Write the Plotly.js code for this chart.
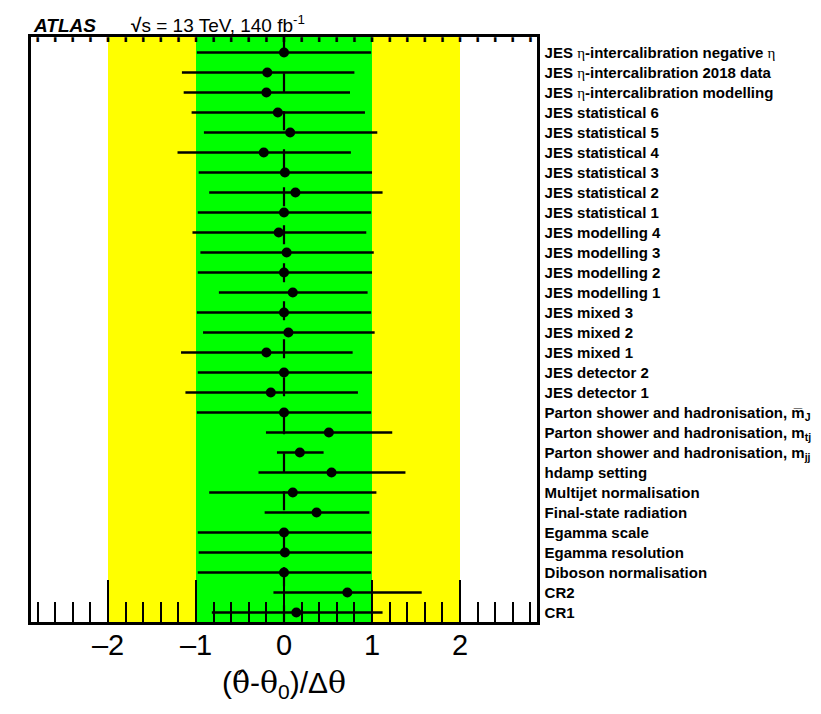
<!DOCTYPE html>
<html><head><meta charset="utf-8">
<script src="https://cdn.plot.ly/plotly-3.0.1.min.js"></script>
<style>html,body{margin:0;padding:0;background:#fff;} #chart{width:821px;height:714px;}</style>
</head><body><div id="chart"></div>
<script>
const ETA = '<span style="font-family:\'Liberation Serif\';font-weight:normal">η</span>';
const SERIF = '<span style="font-family:\'DejaVu Serif\'">';

// Nuisance-parameter names, top to bottom
const labels = [
  'JES ' + ETA + '-intercalibration negative ' + ETA,
  'JES ' + ETA + '-intercalibration 2018 data',
  'JES ' + ETA + '-intercalibration modelling',
  'JES statistical 6', 'JES statistical 5', 'JES statistical 4', 'JES statistical 3',
  'JES statistical 2', 'JES statistical 1',
  'JES modelling 4', 'JES modelling 3', 'JES modelling 2', 'JES modelling 1',
  'JES mixed 3', 'JES mixed 2', 'JES mixed 1',
  'JES detector 2', 'JES detector 1',
  'Parton shower and hadronisation, m&#773;<sub>J</sub>',
  'Parton shower and hadronisation, m<sub>tj</sub>',
  'Parton shower and hadronisation, m<sub>jj</sub>',
  'hdamp setting', 'Multijet normalisation', 'Final-state radiation',
  'Egamma scale', 'Egamma resolution', 'Diboson normalisation', 'CR2', 'CR1'
];

// Pull values (theta_hat - theta0)/dtheta, top to bottom
const pulls = [0.00, -0.19, -0.20, -0.07, 0.07, -0.23, 0.01, 0.13, 0.00,
               -0.06, 0.03, 0.00, 0.10, 0.00, 0.05, -0.20, 0.00, -0.15,
               0.00, 0.51, 0.18, 0.54, 0.10, 0.37, 0.00, 0.01, 0.00, 0.72, 0.14];
// Lower and upper post-fit uncertainties
const errLow  = [0.99, 0.97, 0.94, 0.98, 0.98, 0.98, 0.98, 0.98, 0.98,
                 0.98, 0.98, 0.98, 0.84, 0.99, 0.97, 0.97, 0.98, 0.97,
                 0.99, 0.715, 0.26, 0.83, 0.95, 0.59, 0.98, 0.98, 0.98, 0.84, 0.96];
const errHigh = [0.99, 0.99, 0.95, 0.99, 0.99, 0.99, 0.99, 0.99, 0.99,
                 0.995, 0.99, 1.00, 0.85, 0.99, 0.98, 0.98, 1.00, 0.99,
                 0.99, 0.72, 0.27, 0.84, 0.95, 0.60, 0.99, 0.99, 0.99, 0.845, 0.98];

// Axis tick labels
const xTickVals = [-2, -1, 0, 1, 2];
const xTickText = ['–2', '–1', '0', '1', '2'];

const rowPos = labels.map((_, i) => labels.length - 1 - i);
const xRange = [-2.875, 2.875];
const yRange = [-0.475, 28.775];

// small tick marks along the top frame, every 0.2
const topTickVals = [];
for (let k = -14; k <= 14; k++) topTickVals.push(k / 5);
const topTickText = topTickVals.map(() => '█');

const traces = [
  {
    type: 'scatter', mode: 'markers',
    x: pulls, y: rowPos, xaxis: 'x', yaxis: 'y',
    marker: {color: 'black', size: 10},
    error_x: {type: 'data', symmetric: false, array: errHigh, arrayminus: errLow,
              color: 'black', thickness: 2.6, width: 0},
    hoverinfo: 'skip', showlegend: false
  },
  { type: 'scatter', mode: 'markers', x: pulls, y: rowPos, xaxis: 'x2', yaxis: 'y',
    marker: {color: 'rgba(0,0,0,0)', size: 1}, hoverinfo: 'skip', showlegend: false }
];

const layout = {
  width: 821, height: 714,
  margin: {l: 31, r: 284, t: 37, b: 92, pad: 0},
  paper_bgcolor: 'white', plot_bgcolor: 'white',
  showlegend: false,
  font: {family: 'Liberation Sans, Arial, sans-serif', color: 'black'},
  xaxis: {
    range: xRange, tickmode: 'array', tickvals: xTickVals, ticktext: xTickText,
    ticks: 'inside', ticklen: 42, tickwidth: 2, tickcolor: 'black',
    minor: {tickmode: 'linear', tick0: 0, dtick: 0.2, ticks: 'inside', ticklen: 20,
            tickwidth: 2, tickcolor: 'black', showgrid: false},
    showgrid: false, zeroline: false,
    showline: true, linewidth: 2.6, linecolor: 'black', mirror: true,
    tickfont: {size: 29, family: 'Liberation Sans'},
    ticklabelstandoff: -4,
    title: {text: '(' + SERIF + 'θ&#770;</span>-' + SERIF + 'θ</span><sub>0</sub>)/Δ' + SERIF + 'θ</span>',
            font: {size: 30, family: 'Liberation Sans'}, standoff: 12}
  },
  xaxis2: {
    overlaying: 'x', side: 'top', anchor: 'y', range: xRange,
    tickmode: 'array', tickvals: topTickVals, ticktext: topTickText,
    ticks: '', showticklabels: true, ticklabelposition: 'inside',
    tickfont: {family: 'DejaVu Sans Mono', size: 4, color: 'black'},
    ticklabelstandoff: -2,
    showgrid: false, zeroline: false, showline: false
  },
  yaxis: {
    range: yRange, side: 'right', tickmode: 'array', tickvals: rowPos, ticktext: labels,
    ticks: '', showgrid: false, zeroline: false,
    showline: true, mirror: true, linewidth: 2.6, linecolor: 'black',
    tickfont: {family: 'Liberation Sans', size: 15, weight: 'bold', color: 'black'},
    ticklabelstandoff: 2
  },
  shapes: [
    {type: 'rect', xref: 'x', yref: 'paper', x0: -2, x1: 2, y0: 0, y1: 1,
     fillcolor: '#ffff00', line: {width: 0}, layer: 'below'},
    {type: 'rect', xref: 'x', yref: 'paper', x0: -1, x1: 1, y0: 0, y1: 1,
     fillcolor: '#00ff00', line: {width: 0}, layer: 'below'},
    {type: 'line', xref: 'x', yref: 'y', x0: 0, x1: 0, y0: 28.865, y1: yRange[0],
     line: {color: 'black', width: 2.2, dash: '19px,19px'}, layer: 'below'}
  ],
  annotations: [
    {xref: 'paper', yref: 'paper', x: 0, y: 1.0197, xanchor: 'left', yanchor: 'middle',
     text: '<b><i>ATLAS</i></b>', showarrow: false, font: {size: 19}},
    {xref: 'paper', yref: 'paper', x: 0.194, y: 1.022, xanchor: 'left', yanchor: 'middle',
     text: '<b>√</b>s = 13 TeV, 140 fb<sup>-1</sup>', showarrow: false, font: {size: 19}}
  ]
};

Plotly.newPlot('chart', traces, layout, {displayModeBar: false, staticPlot: true});
</script>
</body></html>
